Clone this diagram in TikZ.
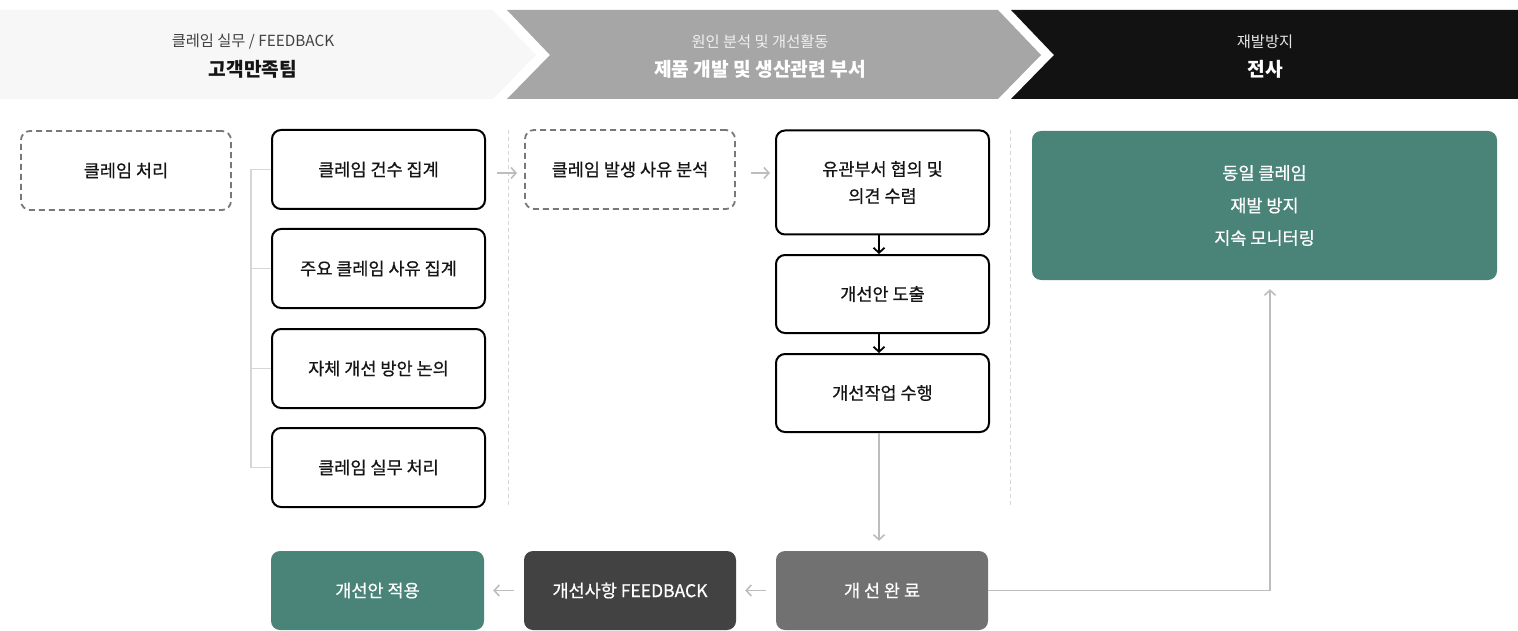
\documentclass[tikz,border=0pt]{standalone}
\usepackage{fontspec}
\setmainfont{Noto Sans CJK KR}
\newfontfamily\boxfont{Noto Sans CJK KR}[FakeBold=0.6]
\usetikzlibrary{arrows.meta}
\definecolor{bandA}{HTML}{F7F7F7}
\definecolor{bandB}{HTML}{A6A6A6}
\definecolor{bandC}{HTML}{121212}
\definecolor{teal}{HTML}{4A8377}
\definecolor{doneG}{HTML}{717171}
\definecolor{fbG}{HTML}{424242}
\definecolor{lineG}{HTML}{BDBDBD}
\definecolor{sepG}{HTML}{D6D6D6}
\definecolor{dashG}{HTML}{787878}
\definecolor{txt}{HTML}{151515}
\tikzset{
  base/.style={rounded corners=9pt, minimum width=213pt, minimum height=79pt, align=center, font=\boxfont\fontsize{17.5pt}{27pt}\selectfont, inner sep=0pt},
  wbox/.style={base, draw=black, line width=2pt, fill=white, text=txt},
  dbox/.style={base, draw=dashG, line width=1.8pt, dash pattern=on 6pt off 4pt, text=txt},
  fbox/.style={base, text=white},
  subt/.style={font=\fontsize{15.3pt}{17pt}\selectfont},
  titl/.style={font=\fontsize{19.2pt}{22pt}\selectfont\bfseries},
  garrow/.style={draw=lineG, line width=1.6pt, -{Straight Barb[length=5pt,width=11pt]}},
  karrow/.style={draw=black, line width=1.8pt, -{Straight Barb[length=5pt,width=11pt]}},
  bracket/.style={draw=sepG, line width=1.2pt},
  sepline/.style={draw=sepG, line width=1pt, dash pattern=on 4pt off 3pt}
}
\begin{document}
\begin{tikzpicture}[x=1pt,y=-1pt]
\useasboundingbox (0,0) rectangle (1518,631);
% header bands
\fill[bandA] (0,10) -- (493,10) -- (536,55) -- (493,99) -- (0,99) -- cycle;
\fill[bandB] (507,10) -- (998,10) -- (1041,55) -- (998,99) -- (507,99) -- (550,55) -- cycle;
\fill[bandC] (1011,10) -- (1518,10) -- (1518,99) -- (1011,99) -- (1054,55) -- cycle;
\node[subt, text=fbG] (h1s) at (253,41.5) {클레임 실무 / FEEDBACK};
\node[titl, text=txt] (h1t) at (253,69.5) {고객만족팀};
\node[subt, text=white!94!black] (h2s) at (760,41.5) {원인 분석 및 개선활동};
\node[titl, text=white] (h2t) at (760,69.5) {제품 개발 및 생산관련 부서};
\node[subt, text=white!90!black] (h3s) at (1265,41.5) {재발방지};
\node[titl, text=white] (h3t) at (1265,69.5) {전사};
% separators
\draw[sepline] (508,130) -- (508,507);
\draw[sepline] (1010,130) -- (1010,507);
% column 1
\node[dbox, minimum width=210pt] (c0) at (126,170.5) {클레임 처리};
\node[wbox] (b1) at (378.5,169.5) {클레임 건수 집계};
\node[wbox] (b2) at (378.5,268.5) {주요 클레임 사유 집계};
\node[wbox] (b3) at (378.5,368.5) {자체 개선 방안 논의};
\node[wbox] (b4) at (378.5,467.5) {클레임 실무 처리};
\coordinate (bx) at (251,0);
\draw[bracket] (b1.west) -- (b1.west -| bx) -- (b4.west -| bx) -- (b4.west);
\draw[bracket] (b2.west) -- (b2.west -| bx);
\draw[bracket] (b3.west) -- (b3.west -| bx);
% column 2
\node[dbox, minimum width=210pt] (a1) at (630,169.5) {클레임 발생 사유 분석};
\node[wbox, minimum height=104pt] (d1) at (882.5,182.5) {유관부서 협의 및\\의견 수렴};
\node[wbox, minimum height=78pt] (d2) at (882.5,294) {개선안 도출};
\node[wbox, minimum height=78pt] (d3) at (882.5,393) {개선작업 수행};
\coordinate (ay) at (0,173);
\draw[garrow, shorten <=11pt, shorten >=7pt] (b1.east |- ay) -- (a1.west |- ay);
\draw[garrow, shorten <=15pt, shorten >=5pt] (a1.east |- ay) -- (d1.west |- ay);
\draw[karrow] ([xshift=-3.5pt]d1.south) -- ([xshift=-3.5pt]d2.north);
\draw[karrow] ([xshift=-3.5pt]d2.south) -- ([xshift=-3.5pt]d3.north);
% bottom row
\node[fbox, fill=doneG, minimum width=212pt] (done) at (882,590.5) {개 선 완 료};
\node[fbox, fill=fbG, minimum width=212pt] (fb) at (630,590.5) {개선사항 FEEDBACK};
\node[fbox, fill=teal] (apply) at (377.5,590.5) {개선안 적용};
\draw[garrow, shorten >=10pt] ([xshift=-3.5pt]d3.south) -- ([xshift=-3pt]done.north);
\draw[garrow, shorten <=10pt, shorten >=9pt] (done.west) -- (fb.east);
\draw[garrow, shorten <=10pt, shorten >=9pt] (fb.west) -- (apply.east);
% right
\node[fbox, fill=teal, minimum width=465pt, minimum height=149pt, font=\boxfont\fontsize{17.5pt}{32.5pt}\selectfont] (green) at (1264.5,205.5) {동일 클레임\\재발 방지\\지속 모니터링};
\draw[garrow] (done.east) -| ([xshift=5.5pt, yshift=-9pt]green.south);
\end{tikzpicture}
\end{document}
